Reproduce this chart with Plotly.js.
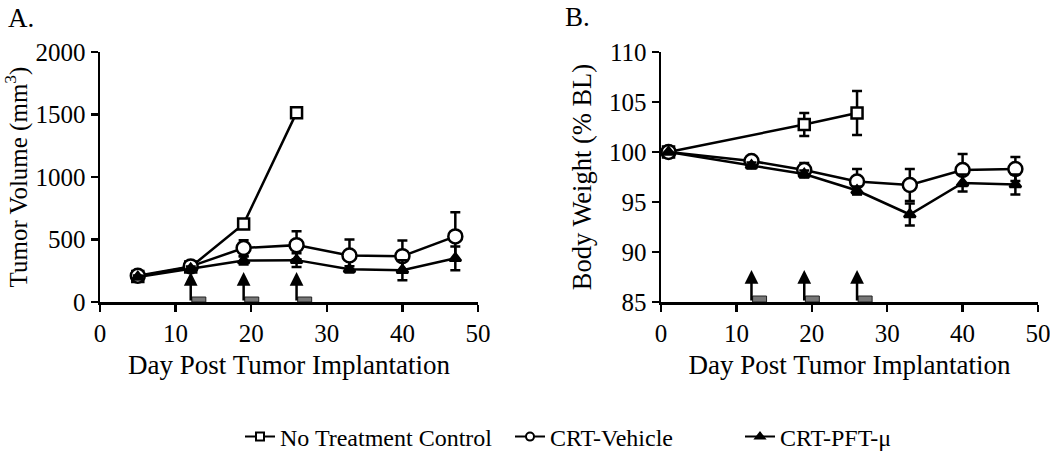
<!DOCTYPE html>
<html>
<head>
<meta charset="utf-8">
<script src="https://cdn.plot.ly/plotly-3.0.1.min.js"></script>
<style>html,body{margin:0;padding:0;background:#fff;}#chart{width:1050px;height:460px;}</style>
</head>
<body>
<div id="chart"></div>
<script>
// ---- Data ----
const seriesNames = ["No Treatment Control", "CRT-Vehicle", "CRT-PFT-\u03bc"];

// Panel A: tumor volume (mm^3)
const daysA_NT = [5, 12, 19, 26];
const volNT = [205, 280, 625, 1515];
const volNTErr = [0, 0, 0, 0];

const daysA = [5, 12, 19, 26, 33, 40, 47];
const volVeh = [210, 285, 432, 455, 372, 367, 525];
const volVehErr = [15, 20, 63, 112, 128, 125, 193];
const volPFT = [200, 265, 332, 335, 262, 255, 350];
const volPFTErr = [12, 20, 32, 55, 25, 80, 95];

// Panel B: body weight (% baseline)
const daysB_NT = [1, 19, 26];
const wtNT = [100, 102.75, 103.9];
const wtNTErr = [0, 1.15, 2.2];

const daysB = [1, 12, 19, 26, 33, 40, 47];
const wtVeh = [100, 99.1, 98.2, 97.05, 96.7, 98.2, 98.3];
const wtVehErr = [0, 0.45, 0.7, 1.25, 1.6, 1.6, 1.2];
const wtPFT = [100, 98.65, 97.8, 96.15, 93.75, 96.9, 96.75];
const wtPFTErr = [0, 0.3, 0.35, 0.4, 1.1, 0.85, 1.0];

// Treatment (dose) days and duration of treatment bar
const doseDays = [12, 19, 26];
const doseDuration = 2;

// ---- Styling ----
const FONT = "Liberation Serif";
const LW = 2.5;
const symbols = ["square", "circle", "triangle-up"];
const filled = [false, false, true];
const plotSizes = [11, 14, 10];

function errObj(arr) {
  return {type: "data", array: arr, visible: true, color: "#000", thickness: LW, width: 5};
}
function mk(i, size) {
  return {symbol: symbols[i], size: size, color: filled[i] ? "#000" : "#fff", line: {color: "#000", width: LW}};
}
function series(x, y, err, i, xa, ya) {
  return {x: x, y: y, error_y: errObj(err), xaxis: xa, yaxis: ya, name: seriesNames[i], showlegend: false,
    mode: "lines+markers", line: {color: "#000", width: LW}, marker: mk(i, plotSizes[i])};
}

const traces = [
  series(daysA_NT, volNT, volNTErr, 0, "x", "y"),
  series(daysA, volVeh, volVehErr, 1, "x", "y"),
  series(daysA, volPFT, volPFTErr, 2, "x", "y"),
  series(daysB_NT, wtNT, wtNTErr, 0, "x2", "y2"),
  series(daysB, wtVeh, wtVehErr, 1, "x2", "y2"),
  series(daysB, wtPFT, wtPFTErr, 2, "x2", "y2")
];
// legend entries (small legend symbols, one legend per series)
const legendIds = ["legend", "legend2", "legend3"];
seriesNames.forEach((n, i) => {
  traces.push({x: [null], y: [null], xaxis: "x", yaxis: "y", name: n, showlegend: true, legend: legendIds[i],
    mode: "lines+markers", line: {color: "#000", width: 2}, marker: {symbol: symbols[i], size: 8,
      color: filled[i] ? "#000" : "#fff", line: {color: "#000", width: 2}}});
});

// Arrows and treatment bars
const annotations = [];
const shapes = [];
const arrowTopA = 240, barHA = 40;
const arrowTopB = 88.2, barHB = 0.6;
doseDays.forEach(d => {
  annotations.push({x: d, y: arrowTopA, ax: d, ay: 0, xref: "x", yref: "y", axref: "x", ayref: "y",
    showarrow: true, arrowhead: 2, arrowsize: 1.1, arrowwidth: LW, arrowcolor: "#000", text: ""});
  annotations.push({x: d, y: arrowTopB, ax: d, ay: 85, xref: "x2", yref: "y2", axref: "x2", ayref: "y2",
    showarrow: true, arrowhead: 2, arrowsize: 1.1, arrowwidth: LW, arrowcolor: "#000", text: ""});
  shapes.push({type: "rect", xref: "x", yref: "y", x0: d + 0.15, x1: d + doseDuration, y0: 0, y1: barHA,
    fillcolor: "#777", line: {color: "#222", width: 1}, layer: "below"});
  shapes.push({type: "rect", xref: "x2", yref: "y2", x0: d + 0.15, x1: d + doseDuration, y0: 85, y1: 85 + barHB,
    fillcolor: "#777", line: {color: "#222", width: 1}, layer: "below"});
});

annotations.push({text: "A.", xref: "paper", yref: "paper", x: 6 / 1050, y: 1 - 1 / 460, xanchor: "left", yanchor: "top",
  showarrow: false, font: {family: FONT, size: 27, color: "#000"}});
annotations.push({text: "B.", xref: "paper", yref: "paper", x: 563 / 1050, y: 1 - 0 / 460, xanchor: "left", yanchor: "top",
  showarrow: false, font: {family: FONT, size: 27, color: "#000"}});

function xax(domain, anchor) {
  return {domain: domain, anchor: anchor, range: [0, 50], tickvals: [0, 10, 20, 30, 40, 50],
    showline: true, linecolor: "#000", linewidth: LW, ticks: "outside", ticklen: 7, tickwidth: LW, tickcolor: "#000",
    ticklabeloverflow: "allow",
    showgrid: false, zeroline: false, tickfont: {family: FONT, size: 25, color: "#000"},
    title: {text: "Day Post Tumor Implantation", font: {family: FONT, size: 27, color: "#000"}, standoff: 10}};
}
function yax(domain, anchor, range, tickvals, title, tsize, tstand) {
  return {domain: domain, anchor: anchor, range: range, tickvals: tickvals,
    showline: true, linecolor: "#000", linewidth: LW, ticks: "outside", ticklen: 7, tickwidth: LW, tickcolor: "#000",
    ticklabeloverflow: "allow",
    showgrid: false, zeroline: false, tickfont: {family: FONT, size: 25, color: "#000"},
    title: {text: title, font: {family: FONT, size: tsize, color: "#000"}, standoff: tstand}};
}

const ydom = [1 - 302 / 460, 1 - 52 / 460];
const legY = 1 - 437 / 460;
function leg(xpx) {
  return {orientation: "h", x: xpx / 1050, y: legY, xanchor: "left", yanchor: "middle",
    font: {family: FONT, size: 24, color: "#000"}, itemwidth: 30, bgcolor: "rgba(0,0,0,0)"};
}
const layout = {
  width: 1050, height: 460,
  margin: {l: 0, r: 0, t: 0, b: 0},
  paper_bgcolor: "#fff", plot_bgcolor: "#fff",
  font: {family: FONT, size: 24, color: "#000"},
  xaxis: xax([100 / 1050, 478 / 1050], "y"),
  yaxis: yax(ydom, "x", [0, 2000], [0, 500, 1000, 1500, 2000], "Tumor Volume (mm<sup>3</sup>)", 25, 2),
  xaxis2: xax([661 / 1050, 1038 / 1050], "y2"),
  yaxis2: yax(ydom, "x2", [85, 110], [85, 90, 95, 100, 105, 110], "Body Weight (% BL)", 26.5, 10),
  showlegend: true,
  legend: leg(240),
  legend2: leg(510),
  legend3: leg(740),
  annotations: annotations,
  shapes: shapes
};

Plotly.newPlot("chart", traces, layout, {displayModeBar: false, staticPlot: true});
</script>
</body>
</html>
